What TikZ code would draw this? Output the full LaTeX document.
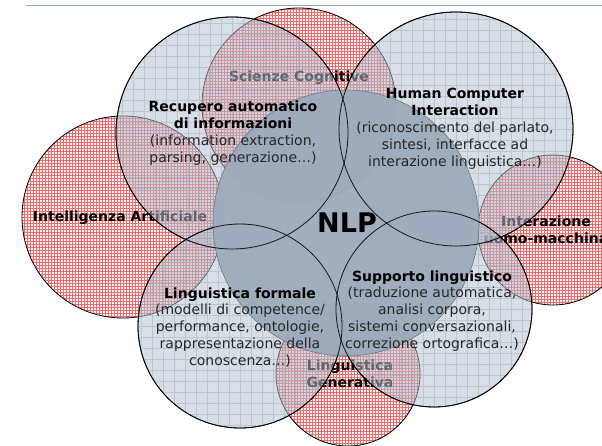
\documentclass[tikz,border=0pt]{standalone}
\usepackage{fontspec}
\setmainfont{DejaVu Sans}
\definecolor{gfill}{HTML}{B3C0CF}
\definecolor{ggrid}{HTML}{8C9BB0}
\definecolor{rline}{HTML}{E57070}
\definecolor{rfill}{HTML}{FDF0F0}
\definecolor{darkfill}{HTML}{9DABBC}
\definecolor{topline}{HTML}{8FAACC}
\definecolor{bodytext}{HTML}{262626}
\newcommand\redcirc[3]{%
  \begin{scope}[shift={(#1,#2)}]
    \begin{scope}
      \clip (0,0) circle (#3pt);
      \fill[rfill] (0,0) circle (#3pt);
      \draw[rline, line width=0.6pt] (-#3pt,-#3pt) grid[step=3pt] (#3pt,#3pt);
    \end{scope}
    \draw[black, line width=0.8pt] (0,0) circle (#3pt);
  \end{scope}}
\newcommand\graycirc[3]{%
  \begin{scope}[shift={(#1,#2)}]
    \fill[gfill, fill opacity=0.52] (0,0) circle (#3pt);
    \begin{scope}
      \clip (0,0) circle (#3pt);
      \draw[ggrid, draw opacity=0.35, line width=0.8pt] (-#3pt,-#3pt) grid[step=11pt] (#3pt,#3pt);
    \end{scope}
    \draw[black, line width=0.8pt] (0,0) circle (#3pt);
  \end{scope}}
\newcommand\grayoutline[3]{%
  \draw[black, line width=0.8pt, draw opacity=0.85] (#1,#2) circle (#3pt);}
\begin{document}
\begin{tikzpicture}[x=1pt,y=-1pt,
  lbl/.style={inner sep=0pt, align=center, font=\fontsize{14}{16.9}\selectfont},
  hd/.style={lbl, font=\fontsize{14}{16.9}\selectfont\bfseries}]
\useasboundingbox (0,0) rectangle (602,446);
\clip (0,0) rectangle (602,446);
\fill[white] (0,0) rectangle (602,446);
% top rule
\coordinate (tl) at (26,5.5);
\coordinate (tr) at (602,5.5);
\draw[topline, line width=1.5pt] (tl) -- (tr);
% red circles
\redcirc{299}{105}{97}
\redcirc{123}{217}{101}
\redcirc{553}{230}{75}
\redcirc{348}{374}{72}
% red labels
\node[hd] (sc) at (299,78) {Scienze Cognitive};
\node[hd] (ia) at (120,218) {Intelligenza Artificiale};
\node[hd] (ium) at (546,230) {Interazione\\uomo-macchina};
\node[hd] (lg) at (350,374) {Linguistica\\Generativa};
% gray circles
\graycirc{232}{133}{116}
\graycirc{456}{129}{117}
\graycirc{240}{326}{102}
\graycirc{434}{309}{98}
% NLP circle
\fill[darkfill, fill opacity=0.96] (346,223) circle (133pt);
\draw[darkfill!70!black, line width=0.6pt] (346,223) circle (133pt);
% outlines on top
\grayoutline{232}{133}{116}
\grayoutline{456}{129}{117}
\grayoutline{240}{326}{102}
\grayoutline{434}{309}{98}
% labels
\node[lbl] (ra) at (233,133) {\textbf{Recupero automatico}\\\textbf{di informazioni}\\\textcolor{bodytext}{(information extraction,}\\\textcolor{bodytext}{parsing, generazione…)}};
\node[lbl] (hci) at (455,128.5) {\textbf{Human Computer}\\\textbf{Interaction}\\\textcolor{bodytext}{(riconoscimento del parlato,}\\\textcolor{bodytext}{sintesi, interfacce ad}\\\textcolor{bodytext}{interazione linguistica…)}};
\node[lbl] (lf) at (240,327.5) {\textbf{Linguistica formale}\\\textcolor{bodytext}{(modelli di competence/}\\\textcolor{bodytext}{performance, ontologie,}\\\textcolor{bodytext}{rappresentazione della}\\\textcolor{bodytext}{conoscenza…)}};
\node[lbl] (sl) at (432,311) {\textbf{Supporto linguistico}\\\textcolor{bodytext}{(traduzione automatica,}\\\textcolor{bodytext}{analisi corpora,}\\\textcolor{bodytext}{sistemi conversazionali,}\\\textcolor{bodytext}{correzione ortografica…)}};
\node[inner sep=0pt, font=\fontsize{27}{30}\selectfont\bfseries] (nlp) at (347,223) {NLP};
\end{tikzpicture}
\end{document}
